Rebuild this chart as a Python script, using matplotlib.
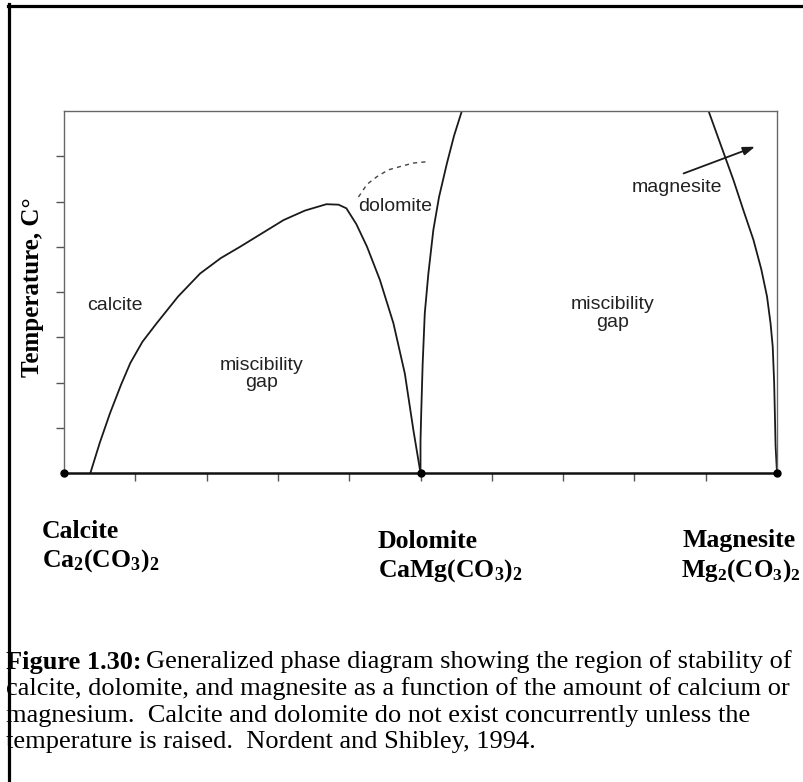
import matplotlib
matplotlib.use("Agg")
import matplotlib.pyplot as plt
from matplotlib.lines import Line2D

plt.rcParams["mathtext.fontset"] = "custom"
plt.rcParams["mathtext.rm"] = "Liberation Serif:bold"
plt.rcParams["mathtext.bf"] = "Liberation Serif:bold"
plt.rcParams["mathtext.it"] = "Liberation Serif:bold"

# Composition axis (0 = calcite, 5 = dolomite, 10 = magnesite) and relative temperature
x_ticks = [1, 2, 3, 4, 5, 6, 7, 8, 9]
y_ticks = [1, 2, 3, 4, 5, 6, 7]
end_members_x = [0, 5, 10]

# Calcite–dolomite solvus
calcite_x = [0.37, 0.50, 0.645, 0.80, 0.93, 1.10, 1.30, 1.60, 1.91, 2.20, 2.47, 2.78,
             3.08, 3.38, 3.68, 3.85, 3.96, 4.10, 4.25, 4.43, 4.62, 4.78, 4.90, 5.0]
calcite_t = [0.0, 0.66, 1.32, 1.95, 2.43, 2.90, 3.31, 3.90, 4.41, 4.75, 5.00, 5.30,
             5.59, 5.80, 5.94, 5.93, 5.85, 5.50, 5.00, 4.27, 3.31, 2.20, 0.95, 0.0]

# Metastable dolomite limb (dashed)
dashed_x = [4.13, 4.25, 4.39, 4.55, 4.71, 4.90, 5.10]
dashed_t = [6.10, 6.38, 6.55, 6.70, 6.77, 6.85, 6.88]

# Dolomite–magnesite solvus, dolomite side
dolo_x = [5.0, 5.0, 5.01, 5.03, 5.06, 5.11, 5.18, 5.26, 5.37, 5.47, 5.58]
dolo_t = [0.0, 0.70, 1.32, 2.40, 3.53, 4.40, 5.37, 6.10, 6.84, 7.45, 8.0]

# Dolomite–magnesite solvus, magnesite side
mag_x = [9.04, 9.20, 9.39, 9.53, 9.67, 9.78, 9.86, 9.91, 9.94, 9.96, 9.97, 9.98, 10.0]
mag_t = [8.0, 7.30, 6.47, 5.80, 5.15, 4.50, 3.90, 3.30, 2.79, 2.00, 1.32, 0.60, 0.0]

arrow_start = (8.69, 6.62)
arrow_end = (9.69, 7.21)

W, H, DPI = 804, 782, 100
fig = plt.figure(figsize=(W / DPI, H / DPI), dpi=DPI)
ax = fig.add_axes([64 / W, 1 - 473 / H, (777 - 64) / W, (473 - 111) / H])
ax.set_xlim(0, 10)
ax.set_ylim(0, 8)

for s in ("top", "left", "right"):
    ax.spines[s].set_color("#666666")
    ax.spines[s].set_linewidth(1.0)
ax.spines["bottom"].set_color("#111111")
ax.spines["bottom"].set_linewidth(1.8)

ax.set_xticks(x_ticks)
ax.set_yticks(y_ticks)
ax.set_xticklabels([])
ax.set_yticklabels([])
ax.tick_params(axis="both", direction="out", length=6, width=1.0, color="#555555")

lc = "#1a1a1a"
ax.plot(calcite_x, calcite_t, color=lc, lw=1.3, solid_capstyle="round")
ax.plot(dashed_x, dashed_t, color="#444444", lw=1.0, ls=(0, (3, 3)))
ax.plot(dolo_x, dolo_t, color=lc, lw=1.3)
ax.plot(mag_x, mag_t, color=lc, lw=1.3)
ax.plot(end_members_x, [0, 0, 0], "o", color="black", ms=5, clip_on=False, zorder=5)

ax.annotate("", xy=arrow_end, xytext=arrow_start,
            arrowprops=dict(arrowstyle="-|>,head_length=0.7,head_width=0.25",
                            color=lc, lw=1.3, shrinkA=0, shrinkB=0))

sans = "Liberation Sans"
fs_in = 14
ax.text(0.71, 3.71, "calcite", family=sans, fontsize=fs_in, ha="center", va="center", color="#222222")
ax.text(2.77, 2.19, "miscibility\ngap", family=sans, fontsize=fs_in, ha="center", va="center",
        linespacing=1.05, color="#222222")
ax.text(4.64, 5.88, "dolomite", family=sans, fontsize=fs_in, ha="center", va="center", color="#222222")
ax.text(8.59, 6.31, "magnesite", family=sans, fontsize=fs_in, ha="center", va="center", color="#222222")
ax.text(7.70, 3.53, "miscibility\ngap", family=sans, fontsize=fs_in, ha="center", va="center",
        linespacing=1.05, color="#222222")

serif = "Liberation Serif"
fig.text(33 / W, 1 - 287 / H, "Temperature, C°", family=serif, fontweight="bold",
         fontsize=18, rotation=90, ha="center", va="center")

fs_lab = 18.5
def px(x, y):
    return x / W, 1 - y / H

fig.text(*px(42, 532), "Calcite", family=serif, fontweight="bold", fontsize=fs_lab, va="center", ha="left")
fig.text(*px(42, 561), r"$\mathrm{Ca_2(CO_3)_2}$", fontsize=fs_lab, va="center", ha="left")
fig.text(*px(378, 541), "Dolomite", family=serif, fontweight="bold", fontsize=fs_lab, va="center", ha="left")
fig.text(*px(378, 571), r"$\mathrm{CaMg(CO_3)_2}$", fontsize=fs_lab, va="center", ha="left")
fig.text(*px(683, 541), "Magnesite", family=serif, fontweight="bold", fontsize=fs_lab, va="center", ha="left")
fig.text(*px(681, 571), r"$\mathrm{Mg_2(CO_3)_2}$", fontsize=18, va="center", ha="left")

# Caption
fs_cap = 19
renderer = fig.canvas.get_renderer()
bold_part = fig.text(*px(6, 662), "Figure 1.30:", family=serif, fontweight="bold",
                     fontsize=fs_cap, va="center", ha="left")
bb = bold_part.get_window_extent(renderer=renderer)
fig.text(bb.x1 / W + 4 / W, 1 - 662 / H,
         "Generalized phase diagram showing the region of stability of",
         family=serif, fontsize=fs_cap, va="center", ha="left")
caption_rest = [
    "calcite, dolomite, and magnesite as a function of the amount of calcium or",
    "magnesium.  Calcite and dolomite do not exist concurrently unless the",
    "temperature is raised.  Nordent and Shibley, 1994.",
]
for i, line in enumerate(caption_rest):
    fig.text(*px(6, 689 + 26.7 * i), line, family=serif, fontsize=fs_cap, va="center", ha="left")

# Page frame (top and left edges)
fig.add_artist(Line2D([8 / W, 1.0], [1 - 5.5 / H, 1 - 5.5 / H], transform=fig.transFigure,
                      color="black", lw=2.3))
fig.add_artist(Line2D([8.5 / W, 8.5 / W], [0.0, 1 - 4 / H], transform=fig.transFigure,
                      color="black", lw=2.3))

fig.savefig("out.png", dpi=DPI)
